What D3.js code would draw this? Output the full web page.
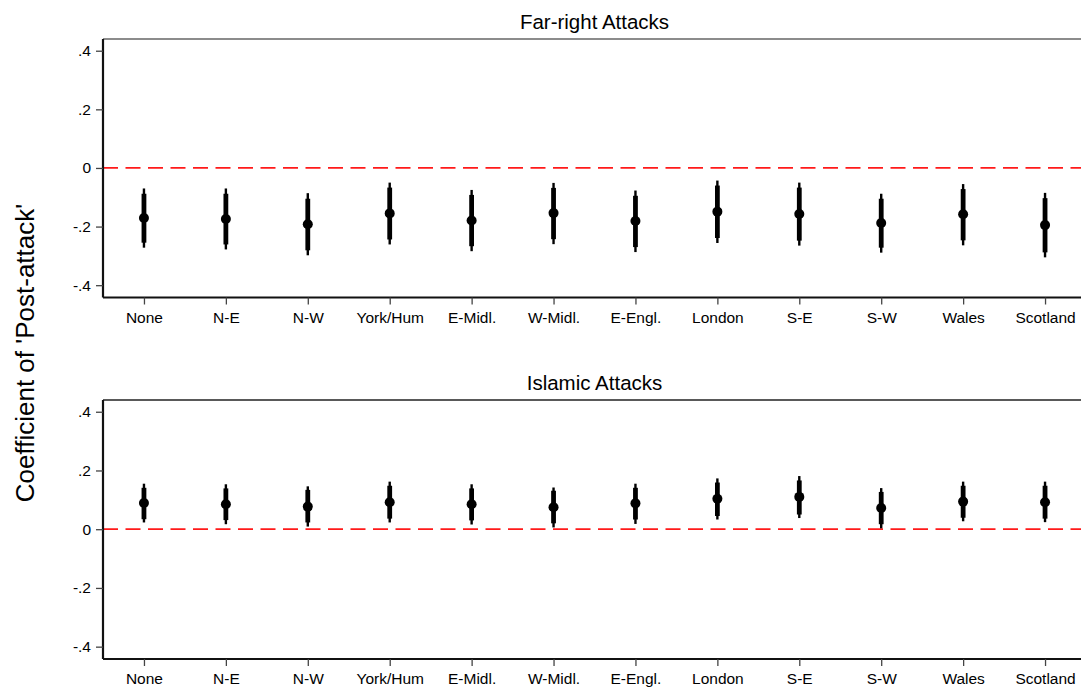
<!DOCTYPE html>
<html><head><meta charset="utf-8">
<script src="https://cdn.jsdelivr.net/npm/d3@7"></script>
<style>body{margin:0;background:#fff}svg{display:block}text{font-family:"Liberation Sans",Arial,Helvetica,sans-serif;fill:#000}</style>
</head><body>
<script>
const regions = ["None","N-E","N-W","York/Hum","E-Midl.","W-Midl.","E-Engl.","London","S-E","S-W","Wales","Scotland"];
const yTicks = [0.4,0.2,0,-0.2,-0.4];
const yTickLabels = [".4",".2","0","-.2","-.4"];
const panelTitles = ["Far-right Attacks","Islamic Attacks"];

// Far-right: estimate, 90% CI (thick), 95% CI (thin)
const farEst  = [-0.171,-0.174,-0.192,-0.155,-0.179,-0.154,-0.181,-0.149,-0.157,-0.188,-0.158,-0.195];
const farLo90 = [-0.255,-0.261,-0.281,-0.244,-0.267,-0.243,-0.270,-0.239,-0.248,-0.272,-0.247,-0.288];
const farHi90 = [-0.088,-0.088,-0.105,-0.067,-0.092,-0.068,-0.095,-0.060,-0.067,-0.105,-0.072,-0.103];
const farLo95 = [-0.272,-0.278,-0.298,-0.261,-0.284,-0.260,-0.287,-0.256,-0.265,-0.289,-0.264,-0.305];
const farHi95 = [-0.070,-0.070,-0.086,-0.050,-0.075,-0.051,-0.077,-0.043,-0.050,-0.088,-0.055,-0.085];

// Islamic
const islEst  = [0.089,0.085,0.077,0.092,0.085,0.075,0.088,0.104,0.110,0.072,0.094,0.092];
const islLo90 = [0.034,0.031,0.023,0.036,0.030,0.020,0.033,0.045,0.050,0.017,0.039,0.036];
const islHi90 = [0.141,0.139,0.134,0.148,0.139,0.131,0.141,0.159,0.166,0.127,0.148,0.148];
const islLo95 = [0.023,0.017,0.009,0.023,0.016,0.006,0.018,0.033,0.038,0.003,0.027,0.024];
const islHi95 = [0.155,0.153,0.146,0.162,0.153,0.142,0.155,0.173,0.181,0.140,0.162,0.162];

const W = 1081, H = 688;
const svg = d3.select("body").append("svg").attr("width", W).attr("height", H);

const left = 103, right = 1086;
const x = d3.scalePoint().domain(regions).range([left, right]).padding(0.5);

const panels = [
  {title: panelTitles[0], top: 39, bottom: 297.5, est: farEst, lo90: farLo90, hi90: farHi90, lo95: farLo95, hi95: farHi95, border:"#666"},
  {title: panelTitles[1], top: 400, bottom: 659, est: islEst, lo90: islLo90, hi90: islHi90, lo95: islLo95, hi95: islHi95, border:"#222"}
];

panels.forEach(p => {
  const y = d3.scaleLinear().domain([-0.442, 0.44]).range([p.bottom, p.top]);
  const g = svg.append("g");

  g.append("text").attr("x", (left + right) / 2).attr("y", p.top - 10)
    .attr("text-anchor", "middle").attr("font-size", 20.5).text(p.title);

  g.append("line").attr("x1", left).attr("x2", W).attr("y1", p.top).attr("y2", p.top)
    .attr("stroke", p.border).attr("stroke-width", 1.6);

  g.append("line").attr("x1", left).attr("x2", W).attr("y1", y(0)).attr("y2", y(0))
    .attr("stroke", "#ff1a1a").attr("stroke-width", 1.8).attr("stroke-dasharray", "15,7.5");

  const ya = d3.axisLeft(y).tickValues(yTicks).tickSize(7).tickPadding(5)
    .tickFormat((d, i) => yTickLabels[i]);
  const yg = g.append("g").attr("transform", `translate(${left},0)`).call(ya);
  yg.select(".domain").attr("d", `M0,${p.top}V${p.bottom}`).attr("stroke", "#111").attr("stroke-width", 2.2);
  yg.selectAll(".tick line").attr("stroke", "#444").attr("stroke-width", 1.3);
  yg.selectAll(".tick text").attr("font-size", 15.5).attr("fill", "#000")
    .style("font-family", '"Liberation Sans",Arial,sans-serif');

  const xa = d3.axisBottom(x).tickSize(7).tickPadding(7);
  const xg = g.append("g").attr("transform", `translate(0,${p.bottom})`).call(xa);
  xg.select(".domain").attr("d", `M${left},0H${W}`).attr("stroke", "#111").attr("stroke-width", 2.2);
  xg.selectAll(".tick line").attr("stroke", "#444").attr("stroke-width", 1.3);
  xg.selectAll(".tick text").attr("font-size", 15.5).attr("fill", "#000")
    .style("font-family", '"Liberation Sans",Arial,sans-serif');

  const idx = d3.range(regions.length);
  g.selectAll(".ci95").data(idx).join("line")
    .attr("x1", i => x(regions[i])).attr("x2", i => x(regions[i]))
    .attr("y1", i => y(p.lo95[i])).attr("y2", i => y(p.hi95[i]))
    .attr("stroke", "#000").attr("stroke-width", 2.4);
  g.selectAll(".ci90").data(idx).join("line")
    .attr("x1", i => x(regions[i])).attr("x2", i => x(regions[i]))
    .attr("y1", i => y(p.lo90[i])).attr("y2", i => y(p.hi90[i]))
    .attr("stroke", "#000").attr("stroke-width", 4.8);
  g.selectAll(".pt").data(idx).join("circle")
    .attr("cx", i => x(regions[i])).attr("cy", i => y(p.est[i])).attr("r", 5)
    .attr("fill", "#000");
});

svg.append("text").attr("transform", "translate(34,353) rotate(-90)")
  .attr("text-anchor", "middle").attr("font-size", 26).text("Coefficient of 'Post-attack'");
</script>
</body></html>
